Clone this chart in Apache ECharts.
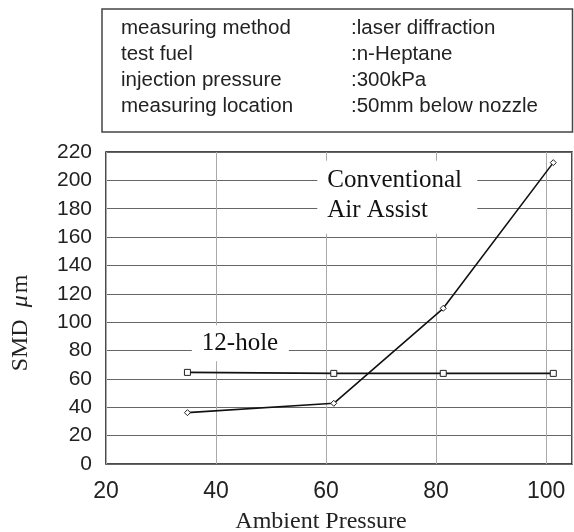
<!DOCTYPE html>
<html>
<head>
<meta charset="utf-8">
<script src="https://cdn.jsdelivr.net/npm/echarts@6/dist/echarts.min.js"></script>
<style>
  html, body { margin: 0; padding: 0; background: #fff; }
  #chart { width: 574px; height: 532px; }
</style>
</head>
<body>
<div id="chart"></div>
<script>
// Ambient pressure (kPa) at each measuring point
const ambientPressure = [34.8, 61.4, 81.3, 101.3];
// Sauter mean diameter (µm) per injector type
const smd12Hole = [64.6, 63.9, 63.9, 63.9];
const smdConventional = [36.2, 42.8, 109.8, 212.5];

const xTicks = [20, 40, 60, 80, 100];
const yTicks = [0, 20, 40, 60, 80, 100, 120, 140, 160, 180, 200, 220];

// Test conditions shown in the header box
const conditionNames = ['measuring method', 'test fuel', 'injection pressure', 'measuring location'];
const conditionValues = [':laser diffraction', ':n-Heptane', ':300kPa', ':50mm below nozzle'];

const serif = '"Liberation Serif", "Times New Roman", serif';
const sans = '"Liberation Sans", Arial, sans-serif';

const chart = echarts.init(document.getElementById('chart'), null, { renderer: 'canvas' });

const pairs = (xs, ys) => xs.map((x, i) => [x, ys[i]]);

chart.setOption({
  animation: false,
  backgroundColor: '#fff',
  grid: {
    left: 106, right: 2, top: 152, bottom: 68,
    outerBoundsMode: 'none',
    containLabel: false,
    show: true, borderColor: '#111', borderWidth: 1.5, backgroundColor: 'transparent'
  },
  xAxis: {
    type: 'value',
    min: xTicks[0],
    max: 104.7,
    interval: 20,
    axisLine: { show: false },
    axisTick: { show: false },
    axisLabel: {
      margin: 16,
      fontFamily: sans, fontSize: 23, color: '#222',
      formatter: v => (xTicks.indexOf(v) >= 0 ? String(v) : '')
    },
    splitLine: { show: true, lineStyle: { color: '#aaa', width: 1 } },
    name: 'Ambient Pressure',
    nameLocation: 'middle',
    nameGap: 46,
    nameTextStyle: { fontFamily: serif, fontSize: 24, color: '#222', padding: [0, 36, 0, 0] }
  },
  yAxis: {
    type: 'value',
    min: yTicks[0],
    max: yTicks[yTicks.length - 1],
    interval: 20,
    axisLine: { show: false },
    axisTick: { show: false },
    axisLabel: { margin: 14, fontFamily: sans, fontSize: 21, color: '#222' },
    splitLine: { show: true, lineStyle: { color: '#666', width: 1 } },
    name: 'SMD {i|μ}m',
    nameLocation: 'middle',
    nameGap: 73,
    nameRotate: 90,
    nameTextStyle: {
      fontFamily: serif, fontSize: 24, color: '#222', padding: [0, 30, 0, 0],
      rich: { i: { fontFamily: serif, fontSize: 24, fontStyle: 'italic', color: '#222', padding: [0, 2, 0, 6] } }
    }
  },
  series: [
    {
      name: '12-hole',
      type: 'line',
      data: pairs(ambientPressure, smd12Hole),
      symbol: 'rect',
      symbolSize: 6,
      lineStyle: { color: '#111', width: 1.6 },
      itemStyle: { color: '#fff', borderColor: '#222', borderWidth: 1 },
      z: 5
    },
    {
      name: 'Conventional Air Assist',
      type: 'line',
      data: pairs(ambientPressure, smdConventional),
      symbol: 'diamond',
      symbolSize: 6,
      lineStyle: { color: '#111', width: 1.6 },
      itemStyle: { color: '#fff', borderColor: '#222', borderWidth: 1 },
      z: 5
    }
  ]
});

// Series labels with white backing, placed in data space
const at = (x, y) => chart.convertToPixel({ gridIndex: 0 }, [x, y]);
const convPos = at(58.4, 213.8);
const holePos = at(35.6, 97.8);

chart.setOption({
  graphic: [
    // Header box with the test conditions
    {
      type: 'rect', z: 10,
      shape: { x: 102, y: 9, width: 470.5, height: 123 },
      style: { fill: '#fff', stroke: '#444', lineWidth: 1.5 }
    },
    {
      type: 'text', z: 11, x: 121, y: 15,
      style: { text: conditionNames.join('\n'), font: '20.5px ' + sans, lineHeight: 26, fill: '#222', verticalAlign: 'top' }
    },
    {
      type: 'text', z: 11, x: 351, y: 15,
      style: { text: conditionValues.join('\n'), font: '20.5px ' + sans, lineHeight: 26, fill: '#222', verticalAlign: 'top' }
    },
    // "Conventional Air Assist" label
    {
      type: 'rect', z: 10,
      shape: { x: convPos[0], y: convPos[1], width: 160, height: 73 },
      style: { fill: '#fff' }
    },
    {
      type: 'text', z: 11, x: convPos[0] + 10, y: convPos[1] + 5,
      style: { text: 'Conventional\nAir Assist', font: '25px ' + serif, lineHeight: 30, fill: '#111', verticalAlign: 'top' }
    },
    // "12-hole" label
    {
      type: 'rect', z: 10,
      shape: { x: holePos[0], y: holePos[1], width: 97, height: 36 },
      style: { fill: '#fff' }
    },
    {
      type: 'text', z: 11, x: holePos[0] + 10, y: holePos[1] + 6,
      style: { text: '12-hole', font: '25px ' + serif, lineHeight: 25, fill: '#111', verticalAlign: 'top' }
    }
  ]
});
</script>
</body>
</html>
